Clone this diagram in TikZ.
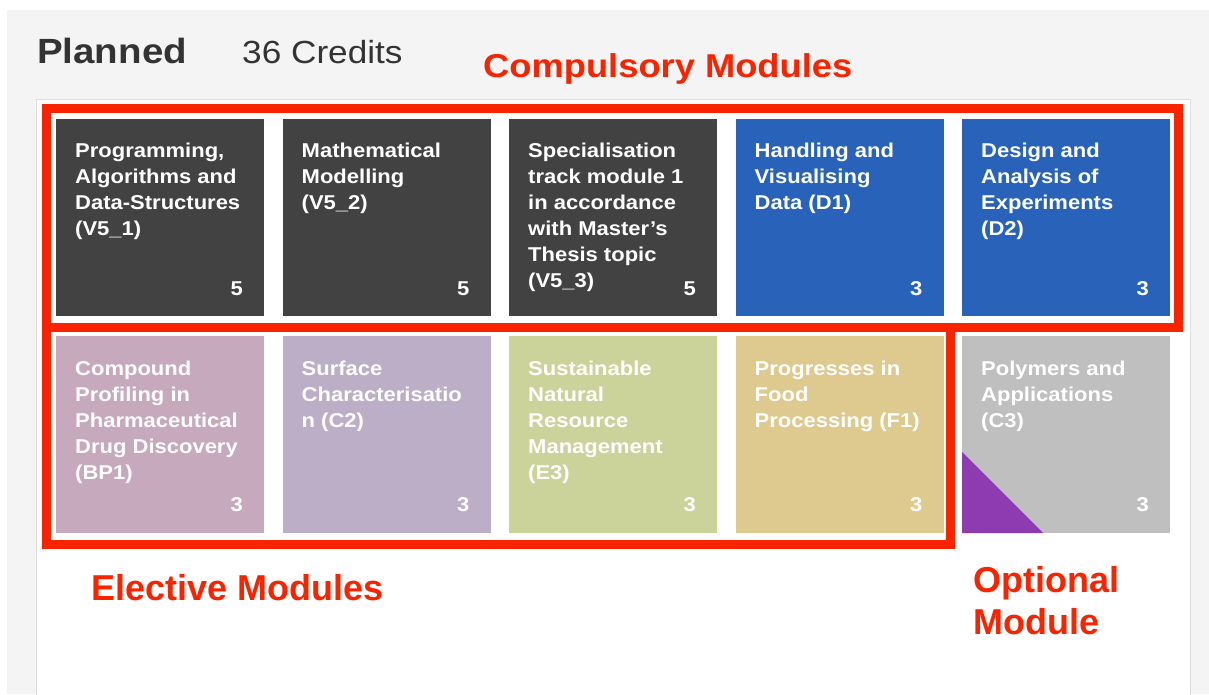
\documentclass[tikz,border=0pt]{standalone}
\usepackage{fontspec}
\setmainfont{Liberation Sans}[FakeStretch=1.1]
\newfontfamily\narrowsans{Liberation Sans}
\definecolor{pagebg}{HTML}{F4F4F4}
\definecolor{panelline}{HTML}{DDDDDD}
\definecolor{headtext}{HTML}{333333}
\definecolor{markred}{HTML}{FA2300}
\definecolor{darktile}{HTML}{424242}
\definecolor{bluetile}{HTML}{2862B9}
\definecolor{bptile}{HTML}{C6A9BD}
\definecolor{cttile}{HTML}{BDAEC7}
\definecolor{etile}{HTML}{CBD39B}
\definecolor{ftile}{HTML}{DEC98F}
\definecolor{greytile}{HTML}{BFBFBF}
\definecolor{optpurple}{HTML}{8E3BB2}
\newcommand\tlines[1]{\parbox[t]{200pt}{\raggedright #1}}
\tikzset{
  tile/.style={minimum width=208pt, minimum height=197pt, inner sep=0pt, outer sep=0pt, draw=none},
  ttext/.style={anchor=base west, inner sep=0pt, text=white, font=\fontsize{20}{26}\selectfont\bfseries},
  cred/.style={anchor=base east, inner sep=0pt, text=white, font=\fontsize{20}{24}\selectfont\bfseries},
  redbox/.style={draw=markred, line width=9pt},
  redlabel/.style={anchor=base west, inner sep=0pt, text=markred},
  headlabel/.style={anchor=base west, inner sep=0pt, text=headtext}
}
\begin{document}
\begin{tikzpicture}[x=1pt, y=-1pt]
\useasboundingbox (0,0) rectangle (1209,694);
\fill[white] (0,0) rectangle (1209,694);
\fill[pagebg] (7,10) rectangle (1209,694);
\draw[panelline, fill=white, line width=1pt] (36,99) rectangle (1190,700);

% header
\node[headlabel, font=\fontsize{35}{40}\selectfont\bfseries] (planned) at (37,63) {Planned};
\node[headlabel, font=\fontsize{32}{38}\selectfont] (credits) at (242,63) {36 Credits};
\node[redlabel, font=\fontsize{33}{38}\selectfont\bfseries] (complab) at (483,77) {Compulsory Modules};

% row 1 tiles
\node[tile, fill=darktile] (t1) at (160,217.5) {};
\node[tile, fill=darktile] (t2) at (386.5,217.5) {};
\node[tile, fill=darktile] (t3) at (613,217.5) {};
\node[tile, fill=bluetile] (t4) at (839.5,217.5) {};
\node[tile, fill=bluetile] (t5) at (1066,217.5) {};
% row 2 tiles
\node[tile, fill=bptile] (u1) at (160,434.5) {};
\node[tile, fill=cttile] (u2) at (386.5,434.5) {};
\node[tile, fill=etile] (u3) at (613,434.5) {};
\node[tile, fill=ftile] (u4) at (839.5,434.5) {};
\node[tile, fill=greytile] (u5) at (1066,434.5) {};
\fill[optpurple] (u5.south west) -- ++(0,-81) -- ([shift={(81,0)}]u5.south west) -- cycle;

% tile texts
\node[ttext] (t1x) at ([shift={(19,38)}]t1.north west) {\tlines{Programming,\\Algorithms and\\Data-Structures\\(V5\_1)}};
\node[ttext] (t2x) at ([shift={(19,38)}]t2.north west) {\tlines{Mathematical\\Modelling\\(V5\_2)}};
\node[ttext] (t3x) at ([shift={(19,38)}]t3.north west) {\tlines{Specialisation\\track module 1\\in accordance\\with Master’s\\Thesis topic\\(V5\_3)}};
\node[ttext] (t4x) at ([shift={(19,38)}]t4.north west) {\tlines{Handling and\\Visualising\\Data (D1)}};
\node[ttext] (t5x) at ([shift={(19,38)}]t5.north west) {\tlines{Design and\\Analysis of\\Experiments\\(D2)}};
\node[ttext] (u1x) at ([shift={(19,39)}]u1.north west) {\tlines{Compound\\Profiling in\\Pharmaceutical\\Drug Discovery\\(BP1)}};
\node[ttext] (u2x) at ([shift={(19,39)}]u2.north west) {\tlines{Surface\\Characterisatio\\n (C2)}};
\node[ttext] (u3x) at ([shift={(19,39)}]u3.north west) {\tlines{Sustainable\\Natural\\Resource\\Management\\(E3)}};
\node[ttext] (u4x) at ([shift={(19,39)}]u4.north west) {\tlines{Progresses in\\Food\\Processing (F1)}};
\node[ttext] (u5x) at ([shift={(19,39)}]u5.north west) {\tlines{Polymers and\\Applications\\(C3)}};

% credits
\node[cred] (t1c) at ([shift={(-21,-21)}]t1.south east) {5};
\node[cred] (t2c) at ([shift={(-21,-21)}]t2.south east) {5};
\node[cred] (t3c) at ([shift={(-21,-21)}]t3.south east) {5};
\node[cred] (t4c) at ([shift={(-21,-21)}]t4.south east) {3};
\node[cred] (t5c) at ([shift={(-21,-21)}]t5.south east) {3};
\node[cred] (u1c) at ([shift={(-21,-22)}]u1.south east) {3};
\node[cred] (u2c) at ([shift={(-21,-22)}]u2.south east) {3};
\node[cred] (u3c) at ([shift={(-21,-22)}]u3.south east) {3};
\node[cred] (u4c) at ([shift={(-21,-22)}]u4.south east) {3};
\node[cred] (u5c) at ([shift={(-21,-22)}]u5.south east) {3};

% red marking boxes
\draw[redbox] (46.5,108) rectangle (1178.5,327);
\draw[redbox] (46.5,327) rectangle (950.5,544);

% red labels
\node[redlabel, font=\narrowsans\fontsize{36}{42}\selectfont\bfseries] (eleclab) at (91,600) {Elective Modules};
\node[redlabel, font=\narrowsans\fontsize{36}{42}\selectfont\bfseries] (optlab1) at (973,592) {Optional};
\node[redlabel, font=\narrowsans\fontsize{36}{42}\selectfont\bfseries] (optlab2) at (973,634) {Module};
\end{tikzpicture}
\end{document}
